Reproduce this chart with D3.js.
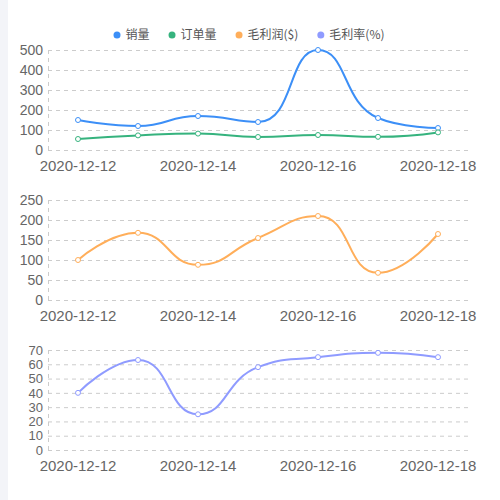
<!DOCTYPE html>
<html><head><meta charset="utf-8">
<script src="https://cdn.jsdelivr.net/npm/d3@7/dist/d3.min.js"></script>
<style>html,body{margin:0;padding:0;background:#fff;}svg{display:block;}</style>
</head><body>
<svg id="c" width="500" height="500"></svg>
<script>
const dates = ["2020-12-12","2020-12-13","2020-12-14","2020-12-15","2020-12-16","2020-12-17","2020-12-18"];
const xTickLabels = ["2020-12-12","2020-12-14","2020-12-16","2020-12-18"];
const sales = [150,120,170,140,500,160,110];
const orders = [55,73,82,65,75,66,88];
const profit = [100,168,88,155,210,68,165];
const margin = [40,63,25,58,65,68,65];
const legendNames = ["销量","订单量","毛利润($)","毛利率(%)"];
const colors = ["#3c8ff7","#36b37e","#ffae5a","#8f9bff"];
const yTicks1 = [0,100,200,300,400,500];
const yTicks2 = [0,50,100,150,200,250];
const yTicks3 = [0,10,20,30,40,50,60,70];

// echarts-like smooth curve
function EchartsSmooth(context){ this._context = context; this._s = 0.5; }
EchartsSmooth.prototype = {
  areaStart(){}, areaEnd(){},
  lineStart(){ this._pts = []; },
  point(x,y){ this._pts.push([+x,+y]); },
  lineEnd(){
    const p = this._pts, c = this._context, s = this._s, n = p.length;
    let cpx0, cpy0, prevX, prevY;
    for (let k = 0; k < n; k++) {
      const x = p[k][0], y = p[k][1];
      if (k === 0) { c.moveTo(x,y); cpx0 = x; cpy0 = y; }
      else {
        let cpx1, cpy1, ncx = x, ncy = y;
        if (k + 1 >= n) { cpx1 = x; cpy1 = y; }
        else {
          const nx = p[k+1][0], ny = p[k+1][1];
          let vx = nx - prevX, vy = ny - prevY;
          const lp = Math.hypot(x - prevX, y - prevY), ln = Math.hypot(nx - x, ny - y);
          const r = ln / (ln + lp);
          ncx = x + vx * s * r; ncy = y + vy * s * r;
          ncx = Math.max(Math.min(ncx, Math.max(nx, x)), Math.min(nx, x));
          ncy = Math.max(Math.min(ncy, Math.max(ny, y)), Math.min(ny, y));
          vx = ncx - x; vy = ncy - y;
          cpx1 = x - vx * lp / ln; cpy1 = y - vy * lp / ln;
          cpx1 = Math.max(Math.min(cpx1, Math.max(prevX, x)), Math.min(prevX, x));
          cpy1 = Math.max(Math.min(cpy1, Math.max(prevY, y)), Math.min(prevY, y));
          vx = x - cpx1; vy = y - cpy1;
          ncx = x + vx * ln / lp; ncy = y + vy * ln / lp;
        }
        c.bezierCurveTo(cpx0, cpy0, cpx1, cpy1, x, y);
        cpx0 = ncx; cpy0 = ncy;
      }
      prevX = x; prevY = y;
    }
  }
};
const curveEcharts = ctx => new EchartsSmooth(ctx);

const svg = d3.select("#c");
svg.append("rect").attr("x",0).attr("y",0).attr("width",8).attr("height",500).attr("fill","#f3f4f8");

const x = d3.scaleBand().domain(dates).range([48,468]);
const cx = d => x(d) + x.bandwidth()/2;

function panel(top, bottom, ticks, seriesList, ySize) {
  const y = d3.scaleLinear().domain([0, ticks[ticks.length-1]]).range([bottom, top]);
  const g = svg.append("g");
  g.selectAll(".grid").data(ticks).join("line")
    .attr("x1",48).attr("x2",468).attr("y1",d=>y(d)+0.5).attr("y2",d=>y(d)+0.5)
    .attr("stroke","#cccccc").attr("stroke-dasharray","4,4");
  g.append("line").attr("x1",48.5).attr("x2",48.5).attr("y1",top).attr("y2",bottom)
    .attr("stroke","#cccccc").attr("stroke-dasharray","4,4");
  g.selectAll(".yl").data(ticks).join("text")
    .attr("x",43).attr("y",d=>y(d)).attr("dy","0.36em").attr("text-anchor","end")
    .attr("font-family","Liberation Sans, Arial, sans-serif").attr("font-size",ySize).attr("fill","#666")
    .text(d=>d);
  g.selectAll(".xl").data(xTickLabels).join("text")
    .attr("x",d=>cx(d)).attr("y",bottom+16).attr("dy","0.36em").attr("text-anchor","middle")
    .attr("font-family","Liberation Sans, Arial, sans-serif").attr("font-size",15).attr("fill","#666")
    .text(d=>d);
  seriesList.forEach(([vals, color]) => {
    const line = d3.line().x((d,i)=>cx(dates[i])).y(d=>y(d)).curve(curveEcharts);
    g.append("path").attr("d", line(vals)).attr("fill","none").attr("stroke",color).attr("stroke-width",2);
    g.selectAll(null).data(vals).join("circle")
      .attr("cx",(d,i)=>cx(dates[i])).attr("cy",d=>y(d)).attr("r",2.5)
      .attr("fill","#fff").attr("stroke",color).attr("stroke-width",1);
  });
}

panel(50,150,yTicks1,[[sales,colors[0]],[orders,colors[1]]],14);
panel(200,300,yTicks2,[[profit,colors[2]]],14);
panel(350,450,yTicks3,[[margin,colors[3]]],13);

const lg = svg.append("g");
let lx = 0;
legendNames.forEach((name,i) => {
  const it = lg.append("g").attr("transform",`translate(${lx},0)`);
  it.append("circle").attr("cx",3.5).attr("cy",35).attr("r",3.5).attr("fill",colors[i]);
  const t = it.append("text").attr("x",12).attr("y",35).attr("dy","0.36em")
    .attr("font-family","Noto Sans CJK SC, sans-serif").attr("font-size",12).attr("fill","#555")
    .text(name);
  lx += 12 + t.node().getComputedTextLength() + 19;
});
const totalW = lx - 19;
lg.attr("transform",`translate(${249 - totalW/2},0)`);
</script>
</body></html>
